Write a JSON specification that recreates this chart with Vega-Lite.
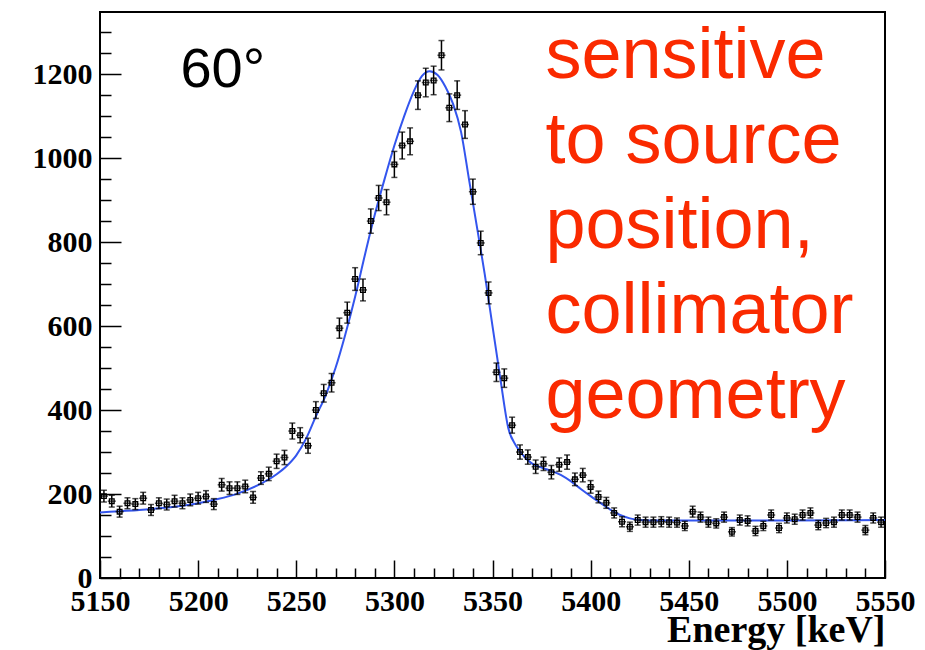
{
  "$schema": "https://vega.github.io/schema/vega-lite/v6.json",
  "width": 785,
  "height": 566,
  "autosize": {"type": "none"},
  "padding": {"left": 100, "top": 12, "right": 40, "bottom": 72},
  "background": "white",
  "config": {
    "view": {"stroke": "black", "strokeWidth": 2},
    "axis": {
      "grid": false,
      "domain": false,
      "labelFont": "Liberation Serif",
      "labelFontWeight": "bold",
      "labelFontSize": 30,
      "labelColor": "black",
      "labelOverlap": false,
      "labelFlush": false,
      "titleFont": "Liberation Serif",
      "titleFontWeight": "bold",
      "titleColor": "black"
    }
  },
  "datasets": {
    "pts": [
      {"e": 5152, "c": 195, "err": 14}, {"e": 5156, "c": 183, "err": 14}, {"e": 5160, "c": 158, "err": 13}, {"e": 5164, "c": 178, "err": 13},
      {"e": 5168, "c": 176, "err": 13}, {"e": 5172, "c": 190, "err": 14}, {"e": 5176, "c": 162, "err": 13}, {"e": 5180, "c": 178, "err": 13},
      {"e": 5184, "c": 175, "err": 13}, {"e": 5188, "c": 183, "err": 14}, {"e": 5192, "c": 178, "err": 13}, {"e": 5196, "c": 186, "err": 14},
      {"e": 5200, "c": 190, "err": 14}, {"e": 5204, "c": 194, "err": 14}, {"e": 5208, "c": 176, "err": 13}, {"e": 5212, "c": 222, "err": 15},
      {"e": 5216, "c": 214, "err": 15}, {"e": 5220, "c": 214, "err": 15}, {"e": 5224, "c": 218, "err": 15}, {"e": 5228, "c": 192, "err": 14},
      {"e": 5232, "c": 238, "err": 15}, {"e": 5236, "c": 248, "err": 16}, {"e": 5240, "c": 278, "err": 17}, {"e": 5244, "c": 287, "err": 17},
      {"e": 5248, "c": 350, "err": 19}, {"e": 5252, "c": 340, "err": 18}, {"e": 5256, "c": 315, "err": 18}, {"e": 5260, "c": 400, "err": 20},
      {"e": 5264, "c": 440, "err": 21}, {"e": 5268, "c": 465, "err": 22}, {"e": 5272, "c": 595, "err": 24}, {"e": 5276, "c": 632, "err": 25},
      {"e": 5280, "c": 712, "err": 27}, {"e": 5284, "c": 686, "err": 26}, {"e": 5288, "c": 850, "err": 29}, {"e": 5292, "c": 905, "err": 30},
      {"e": 5296, "c": 895, "err": 30}, {"e": 5300, "c": 985, "err": 31}, {"e": 5304, "c": 1030, "err": 32}, {"e": 5308, "c": 1040, "err": 32},
      {"e": 5312, "c": 1150, "err": 34}, {"e": 5316, "c": 1180, "err": 34}, {"e": 5320, "c": 1185, "err": 34}, {"e": 5324, "c": 1245, "err": 35},
      {"e": 5328, "c": 1120, "err": 33}, {"e": 5332, "c": 1150, "err": 34}, {"e": 5336, "c": 1080, "err": 33}, {"e": 5340, "c": 920, "err": 30},
      {"e": 5344, "c": 798, "err": 28}, {"e": 5348, "c": 679, "err": 26}, {"e": 5352, "c": 490, "err": 22}, {"e": 5356, "c": 476, "err": 22},
      {"e": 5360, "c": 364, "err": 19}, {"e": 5364, "c": 300, "err": 17}, {"e": 5368, "c": 288, "err": 17}, {"e": 5372, "c": 265, "err": 16},
      {"e": 5376, "c": 272, "err": 16}, {"e": 5380, "c": 252, "err": 16}, {"e": 5384, "c": 270, "err": 16}, {"e": 5388, "c": 276, "err": 17},
      {"e": 5392, "c": 235, "err": 15}, {"e": 5396, "c": 245, "err": 16}, {"e": 5400, "c": 217, "err": 15}, {"e": 5404, "c": 193, "err": 14},
      {"e": 5408, "c": 179, "err": 13}, {"e": 5412, "c": 155, "err": 12}, {"e": 5416, "c": 134, "err": 12}, {"e": 5420, "c": 122, "err": 11},
      {"e": 5424, "c": 138, "err": 12}, {"e": 5428, "c": 133, "err": 12}, {"e": 5432, "c": 133, "err": 12}, {"e": 5436, "c": 134, "err": 12},
      {"e": 5440, "c": 133, "err": 12}, {"e": 5444, "c": 132, "err": 11}, {"e": 5448, "c": 124, "err": 11}, {"e": 5452, "c": 158, "err": 13},
      {"e": 5456, "c": 145, "err": 12}, {"e": 5460, "c": 133, "err": 12}, {"e": 5464, "c": 130, "err": 11}, {"e": 5468, "c": 145, "err": 12},
      {"e": 5472, "c": 110, "err": 10}, {"e": 5476, "c": 138, "err": 12}, {"e": 5480, "c": 136, "err": 12}, {"e": 5484, "c": 112, "err": 11},
      {"e": 5488, "c": 124, "err": 11}, {"e": 5492, "c": 150, "err": 12}, {"e": 5496, "c": 119, "err": 11}, {"e": 5500, "c": 143, "err": 12},
      {"e": 5504, "c": 140, "err": 12}, {"e": 5508, "c": 150, "err": 12}, {"e": 5512, "c": 155, "err": 12}, {"e": 5516, "c": 126, "err": 11},
      {"e": 5520, "c": 131, "err": 11}, {"e": 5524, "c": 133, "err": 12}, {"e": 5528, "c": 150, "err": 12}, {"e": 5532, "c": 150, "err": 12},
      {"e": 5536, "c": 145, "err": 12}, {"e": 5540, "c": 114, "err": 11}, {"e": 5544, "c": 143, "err": 12}, {"e": 5548, "c": 133, "err": 12}
    ],
    "fit": [
      {"e": 5150, "c": 156}, {"e": 5160, "c": 159}, {"e": 5170, "c": 162}, {"e": 5180, "c": 166}, {"e": 5190, "c": 171},
      {"e": 5200, "c": 178}, {"e": 5210, "c": 188}, {"e": 5220, "c": 201}, {"e": 5230, "c": 220}, {"e": 5240, "c": 247},
      {"e": 5245, "c": 266}, {"e": 5250, "c": 292}, {"e": 5255, "c": 332}, {"e": 5260, "c": 385}, {"e": 5265, "c": 435},
      {"e": 5270, "c": 500}, {"e": 5275, "c": 580}, {"e": 5280, "c": 670}, {"e": 5285, "c": 770}, {"e": 5290, "c": 865},
      {"e": 5295, "c": 950}, {"e": 5300, "c": 1030}, {"e": 5305, "c": 1100}, {"e": 5310, "c": 1160}, {"e": 5314, "c": 1195},
      {"e": 5318, "c": 1207}, {"e": 5322, "c": 1198}, {"e": 5326, "c": 1170}, {"e": 5330, "c": 1128}, {"e": 5334, "c": 1062},
      {"e": 5338, "c": 950}, {"e": 5342, "c": 838}, {"e": 5346, "c": 725}, {"e": 5350, "c": 600}, {"e": 5354, "c": 475},
      {"e": 5358, "c": 358}, {"e": 5362, "c": 315}, {"e": 5366, "c": 290}, {"e": 5370, "c": 273}, {"e": 5375, "c": 263},
      {"e": 5380, "c": 255}, {"e": 5385, "c": 245}, {"e": 5390, "c": 230}, {"e": 5395, "c": 212}, {"e": 5400, "c": 195},
      {"e": 5405, "c": 179}, {"e": 5410, "c": 163}, {"e": 5415, "c": 150}, {"e": 5420, "c": 142}, {"e": 5425, "c": 138},
      {"e": 5430, "c": 137}, {"e": 5450, "c": 137}, {"e": 5500, "c": 137}, {"e": 5550, "c": 138}
    ],
    "labels": [
      {"e": 5191, "c": 1170, "t": "60°"}
    ],
    "note": [
      {"e": 5377, "c": 1190, "t": ["sensitive", "to source", "position,", "collimator", "geometry"]}
    ]
  },
  "resolve": {"axis": {"x": "independent", "y": "independent"}},
  "layer": [
    {
      "data": {"name": "fit"},
      "mark": {"type": "line", "color": "#3355ee", "strokeWidth": 2, "interpolate": "monotone"},
      "encoding": {
        "x": {
          "field": "e", "type": "quantitative",
          "scale": {"domain": [5150, 5550], "nice": false, "zero": false},
          "axis": {
            "orient": "bottom", "title": null, "labels": false, "ticks": true, "tickColor": "black", "tickWidth": 1.5,
            "values": [5160,5170,5180,5190,5210,5220,5230,5240,5260,5270,5280,5290,5310,5320,5330,5340,5360,5370,5380,5390,5410,5420,5430,5440,5460,5470,5480,5490,5510,5520,5530,5540],
            "offset": -10,
            "tickSize": 10
          }
        },
        "y": {
          "field": "c", "type": "quantitative",
          "scale": {"domain": [0, 1348], "nice": false},
          "axis": {
            "orient": "left", "title": null, "labels": false, "ticks": true, "tickColor": "black", "tickWidth": 1.5,
            "values": [50,100,150,250,300,350,450,500,550,650,700,750,850,900,950,1050,1100,1150,1250,1300],
            "offset": -11,
            "tickSize": 11
          }
        }
      }
    },
    {
      "encoding": {
        "x": {
          "field": "e", "type": "quantitative",
          "scale": {"domain": [5150, 5550], "nice": false, "zero": false},
          "axis": {
            "orient": "bottom",
            "title": "Energy [keV]",
            "titleAnchor": "end",
            "titleFontSize": 38,
            "titlePadding": -5,
            "values": [5150, 5200, 5250, 5300, 5350, 5400, 5450, 5500, 5550],
            "format": "d",
            "ticks": true, "tickColor": "black", "tickWidth": 1.5,
            "offset": -18,
            "tickSize": 18,
            "labelPadding": 8
          }
        },
        "y": {
          "field": "c", "type": "quantitative",
          "scale": {"domain": [0, 1348], "nice": false},
          "axis": {
            "orient": "left",
            "title": null,
            "values": [0, 200, 400, 600, 800, 1000, 1200],
            "format": "d",
            "ticks": true, "tickColor": "black", "tickWidth": 1.5,
            "offset": -21,
            "tickSize": 21,
            "labelPadding": 8
          }
        }
      },
      "layer": [
        {
          "data": {"name": "pts"},
          "mark": {"type": "errorbar", "color": "black", "thickness": 1.5, "ticks": {"size": 6, "thickness": 1.5, "color": "black"}},
          "encoding": {"yError": {"field": "err"}}
        },
        {
          "data": {"name": "pts"},
          "mark": {"type": "tick", "orient": "horizontal", "color": "black", "size": 8, "thickness": 1.5}
        },
        {
          "data": {"name": "pts"},
          "mark": {"type": "point", "shape": "square", "filled": false, "color": "black", "size": 22, "strokeWidth": 1.3, "opacity": 1}
        },
        {
          "data": {"name": "labels"},
          "mark": {"type": "text", "align": "left", "baseline": "alphabetic", "font": "Liberation Sans", "fontSize": 56, "color": "black"},
          "encoding": {"text": {"field": "t"}}
        },
        {
          "data": {"name": "note"},
          "mark": {"type": "text", "align": "left", "baseline": "alphabetic", "font": "Liberation Sans", "fontSize": 72, "lineHeight": 85, "color": "#fa2a00"},
          "encoding": {"text": {"field": "t"}}
        }
      ]
    }
  ]
}
